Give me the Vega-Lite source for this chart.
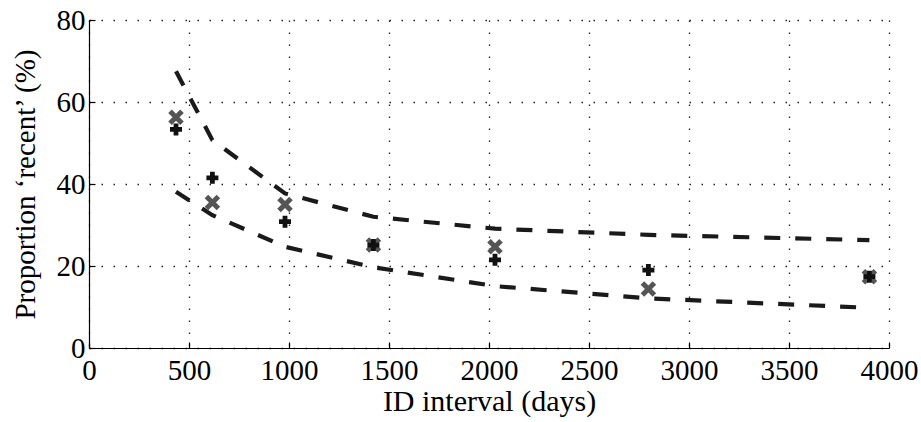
{
  "$schema": "https://vega.github.io/schema/vega-lite/v6.json",
  "width": 800,
  "height": 328,
  "autosize": {"type": "none"},
  "padding": {"left": 89, "top": 20, "right": 32, "bottom": 74},
  "background": "white",
  "config": {
    "view": {"stroke": null},
    "font": "Liberation Serif",
    "axis": {
      "labelFont": "Liberation Serif",
      "titleFont": "Liberation Serif",
      "labelFontSize": 29,
      "titleFontSize": 30,
      "labelColor": "black",
      "titleColor": "black",
      "titleFontWeight": "normal",
      "domainColor": "black",
      "domainWidth": 1.2,
      "tickColor": "black",
      "tickWidth": 1.2,
      "tickSize": -6,
      "gridColor": "#222222",
      "gridDash": [1.5, 10.5],
      "gridWidth": 1.3,
      "gridOpacity": 1
    }
  },
  "datasets": {
    "bounds": [
      {"interval": 435, "pct": 67.5, "bound": "upper"},
      {"interval": 617, "pct": 50.7, "bound": "upper"},
      {"interval": 980, "pct": 37.7, "bound": "upper"},
      {"interval": 1422, "pct": 32.0, "bound": "upper"},
      {"interval": 2030, "pct": 29.1, "bound": "upper"},
      {"interval": 2797, "pct": 27.6, "bound": "upper"},
      {"interval": 3902, "pct": 26.3, "bound": "upper"},
      {"interval": 435, "pct": 38.1, "bound": "lower"},
      {"interval": 617, "pct": 32.4, "bound": "lower"},
      {"interval": 980, "pct": 24.7, "bound": "lower"},
      {"interval": 1422, "pct": 19.7, "bound": "lower"},
      {"interval": 2030, "pct": 15.1, "bound": "lower"},
      {"interval": 2797, "pct": 12.1, "bound": "lower"},
      {"interval": 3902, "pct": 9.8, "bound": "lower"}
    ],
    "points": [
      {"interval": 435, "pct": 56.3, "method": "x"},
      {"interval": 617, "pct": 35.5, "method": "x"},
      {"interval": 980, "pct": 35.0, "method": "x"},
      {"interval": 1422, "pct": 25.1, "method": "x"},
      {"interval": 2030, "pct": 24.7, "method": "x"},
      {"interval": 2797, "pct": 14.4, "method": "x"},
      {"interval": 3902, "pct": 17.4, "method": "x"},
      {"interval": 435, "pct": 53.3, "method": "plus"},
      {"interval": 617, "pct": 41.5, "method": "plus"},
      {"interval": 980, "pct": 30.8, "method": "plus"},
      {"interval": 1422, "pct": 25.1, "method": "plus"},
      {"interval": 2030, "pct": 21.5, "method": "plus"},
      {"interval": 2797, "pct": 19.0, "method": "plus"},
      {"interval": 3902, "pct": 17.4, "method": "plus"}
    ]
  },
  "encoding": {
    "x": {
      "field": "interval", "type": "quantitative",
      "scale": {"domain": [0, 4000], "nice": false, "zero": false},
      "axis": {"title": "ID interval (days)", "format": "d", "values": [0, 500, 1000, 1500, 2000, 2500, 3000, 3500, 4000], "labelPadding": 14, "titlePadding": 1, "labelFlush": false}
    },
    "y": {
      "field": "pct", "type": "quantitative",
      "scale": {"domain": [0, 80], "nice": false},
      "axis": {"title": "Proportion ‘recent’ (%)", "titleFontSize": 29, "format": "d", "values": [0, 20, 40, 60, 80], "labelPadding": 10, "titlePadding": 16, "labelFlush": false}
    }
  },
  "layer": [
    {
      "data": {"name": "bounds"},
      "mark": {"type": "line", "color": "#1a1a1a", "strokeWidth": 4.2, "strokeDash": [16, 15], "strokeCap": "butt"},
      "encoding": {"detail": {"field": "bound"}}
    },
    {
      "data": {"name": "points"},
      "transform": [{"filter": "datum.method === 'x'"}],
      "mark": {"type": "point", "shape": "M-1,-1L1,1M-1,1L1,-1", "size": 144, "stroke": "#555555", "strokeWidth": 5, "filled": false, "opacity": 1}
    },
    {
      "data": {"name": "points"},
      "transform": [{"filter": "datum.method === 'plus'"}],
      "mark": {"type": "point", "shape": "cross", "size": 144, "fill": "#111111", "filled": true, "strokeWidth": 0, "opacity": 1}
    }
  ]
}
